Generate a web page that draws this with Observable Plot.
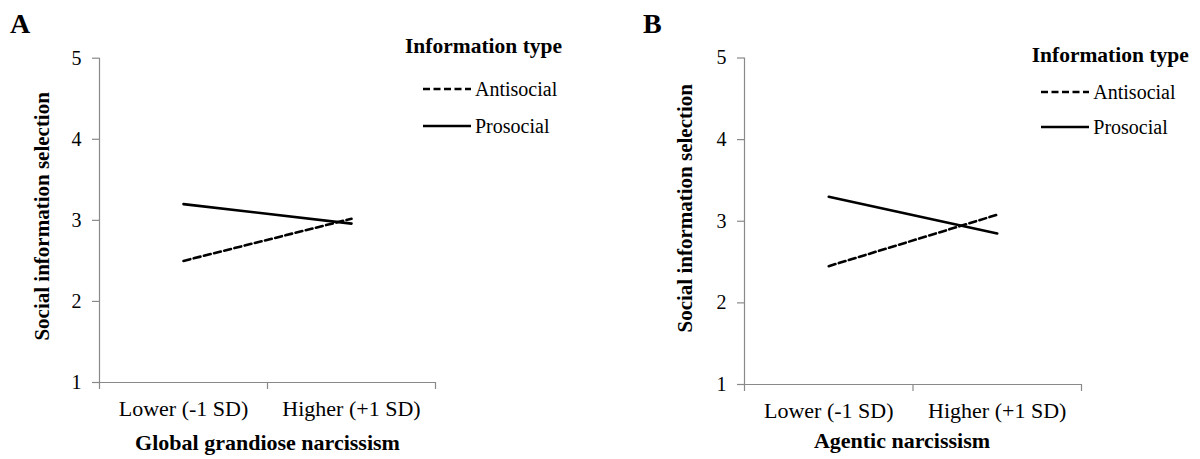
<!DOCTYPE html>
<html><head><meta charset="utf-8">
<script src="https://cdn.jsdelivr.net/npm/d3@7"></script>
<script src="https://cdn.jsdelivr.net/npm/@observablehq/plot@0.6"></script>
<style>
body{margin:0;background:#fff;}
#wrap{position:relative;width:1200px;height:459px;overflow:hidden;font-family:"Liberation Serif","Times New Roman",serif;color:#000;}
#wrap svg, #wrap svg text{font-family:"Liberation Serif","Times New Roman",serif !important;}
.abs{position:absolute;white-space:nowrap;line-height:1;}
.panel{position:absolute;top:0;}
</style></head><body><div id="wrap"></div>
<script>
// ---- data ----
const categories = ["Lower (-1 SD)", "Higher (+1 SD)"];
const infoTypes = ["Antisocial", "Prosocial"];
const yTicks = [1, 2, 3, 4, 5];
const panelLetters = ["A", "B"];
const xTitles = ["Global grandiose narcissism", "Agentic narcissism"];
const yTitle = "Social information selection";
const legendTitle = "Information type";
const antisocialA = [2.50, 3.02];
const prosocialA = [3.20, 2.96];
const antisocialB = [2.45, 3.08];
const prosocialB = [3.30, 2.85];

// ---- layout ----
const GREY = "#898989";
const DASH = "7,3.5";
const FONT = "Liberation Serif, Times New Roman, serif";
const layouts = [
  {left: 0, mL: 99, mR: 165, mT: 57.7, mB: 77, yDx: -57, yDy: -4, xDx: 0, xDy: 60,
   letter: {x: 10, y: 9.5}, leg: {tx: 405, ty: 35.7, lx: 422.5, tx2: 475, y1: 89.3, y2: 126}},
  {left: 600, mL: 144, mR: 119, mT: 57.5, mB: 75, yDx: -59.5, yDy: -13, xDx: -11, xDy: 56,
   letter: {x: 643, y: 9.5}, leg: {tx: 1031.7, ty: 44.9, lx: 1040.7, tx2: 1093.3, y1: 91.7, y2: 127.3}}
];
const seriesByPanel = [[antisocialA, prosocialA], [antisocialB, prosocialB]];

const wrap = document.getElementById("wrap");

layouts.forEach((L, p) => {
  const rows = [];
  infoTypes.forEach((t, k) => {
    seriesByPanel[p][k].forEach((v, i) => rows.push({type: t, pos: i + 0.5, value: v}));
  });
  const chart = Plot.plot({
    width: 600, height: 459,
    marginLeft: L.mL, marginRight: L.mR, marginTop: L.mT, marginBottom: L.mB,
    x: {domain: [0, categories.length], axis: null},
    y: {domain: [1, 5], axis: null},
    style: {fontFamily: FONT, background: "transparent", overflow: "visible", color: "#000"},
    marks: [
      Plot.ruleY([1], {stroke: GREY, strokeWidth: 1.2}),
      Plot.ruleX([0], {stroke: GREY, strokeWidth: 1.2}),
      Plot.axisY({ticks: yTicks, tickSize: 7, tickPadding: 11, stroke: GREY, strokeWidth: 1.2, fontSize: 20, fontFamily: FONT, label: null, tickFormat: d => String(d)}),
      Plot.axisX({ticks: d3.range(categories.length + 1), tickSize: 7, stroke: GREY, strokeWidth: 1.2, tickFormat: () => "", label: null}),
      Plot.text(categories, {x: (d, i) => i + 0.5, text: d => d, frameAnchor: "bottom", textAnchor: "middle", lineAnchor: "middle", dy: 26, fontSize: 22, fontFamily: FONT}),
      Plot.text([xTitles[p]], {text: d => d, frameAnchor: "bottom", textAnchor: "middle", lineAnchor: "middle", dx: L.xDx, dy: L.xDy, fontSize: 22, fontWeight: "bold", fontFamily: FONT}),
      Plot.text([yTitle], {text: d => d, frameAnchor: "left", textAnchor: "middle", lineAnchor: "middle", rotate: -90, dx: L.yDx, dy: L.yDy, fontSize: 21, fontWeight: "bold", fontFamily: FONT}),
      Plot.line(rows.filter(r => r.type === infoTypes[0]), {x: "pos", y: "value", stroke: "#000", strokeWidth: 2.6, strokeDasharray: DASH}),
      Plot.line(rows.filter(r => r.type === infoTypes[1]), {x: "pos", y: "value", stroke: "#000", strokeWidth: 2.6})
    ]
  });
  const holder = document.createElement("div");
  holder.className = "panel";
  holder.style.left = L.left + "px";
  holder.appendChild(chart);
  wrap.appendChild(holder);

  // panel letter
  const letter = document.createElement("div");
  letter.className = "abs";
  letter.style.cssText = `left:${L.letter.x}px;top:${L.letter.y}px;font-size:28px;font-weight:bold;`;
  letter.textContent = panelLetters[p];
  wrap.appendChild(letter);

  // legend
  const lt = document.createElement("div");
  lt.className = "abs";
  lt.style.cssText = `left:${L.leg.tx}px;top:${L.leg.ty}px;font-size:21.5px;font-weight:bold;`;
  lt.textContent = legendTitle;
  wrap.appendChild(lt);
  [L.leg.y1, L.leg.y2].forEach((yc, k) => {
    const sw = document.createElementNS("http://www.w3.org/2000/svg", "svg");
    sw.setAttribute("width", 50); sw.setAttribute("height", 6);
    sw.style.cssText = `position:absolute;left:${L.leg.lx}px;top:${yc - 3}px;`;
    const ln = document.createElementNS("http://www.w3.org/2000/svg", "line");
    ln.setAttribute("x1", 0); ln.setAttribute("x2", 48);
    ln.setAttribute("y1", 3); ln.setAttribute("y2", 3);
    ln.setAttribute("stroke", "#000"); ln.setAttribute("stroke-width", 2.6);
    if (k === 0) ln.setAttribute("stroke-dasharray", DASH);
    sw.appendChild(ln);
    wrap.appendChild(sw);
    const tx = document.createElement("div");
    tx.className = "abs";
    tx.style.cssText = `left:${L.leg.tx2}px;top:${yc - 10.2}px;font-size:20px;`;
    tx.textContent = infoTypes[k];
    wrap.appendChild(tx);
  });
});
</script></body></html>
